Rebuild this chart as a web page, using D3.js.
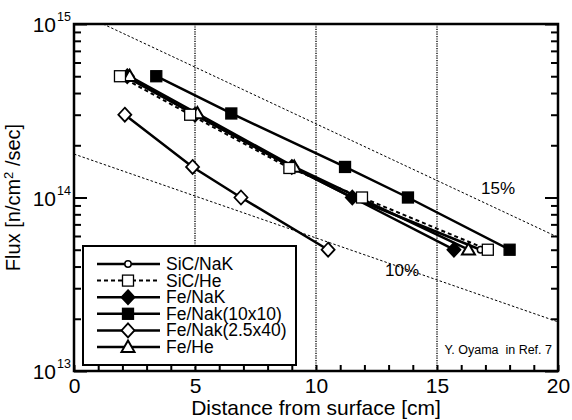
<!DOCTYPE html>
<html>
<head>
<meta charset="utf-8">
<script src="https://cdn.jsdelivr.net/npm/d3@7"></script>
<style>
  body { margin: 0; background: #fff; }
  svg { display: block; }
  text { font-family: "Liberation Sans", Arial, Helvetica, sans-serif; fill: #000; }
</style>
</head>
<body>
<script>
// series data: [distance cm, flux n/cm2/sec]
var sicNak   = [[2.1, 5.0e14], [5.0, 3.0e14], [9.0, 1.5e14], [11.5, 1.0e14], [16.8, 5.0e13]];
var sicHe    = [[1.9, 5.0e14], [4.8, 3.0e14], [8.9, 1.48e14], [11.9, 1.0e14], [17.1, 5.0e13]];
var feNak    = [[2.2, 5.0e14], [5.0, 3.0e14], [9.0, 1.5e14], [11.5, 1.0e14], [15.7, 5.0e13]];
var feNak10  = [[3.4, 5.0e14], [6.5, 3.05e14], [11.2, 1.5e14], [13.8, 1.0e14], [18.0, 5.0e13]];
var feNak25  = [[2.1, 3.0e14], [4.9, 1.5e14], [6.9, 1.0e14], [10.5, 5.0e13]];
var feHe     = [[2.3, 5.0e14], [5.1, 3.05e14], [9.1, 1.5e14], [16.3, 5.0e13]];

// dotted guide lines (15% / 10%)
var guide15 = [[1.2, 1.0e15], [20, 5.9e13]];
var guide10 = [[0, 1.78e14], [20, 1.92e13]];

var xTicks = d3.range(0, 21);
var xLabels = [0, 5, 10, 15, 20];
var gridX = [5, 10, 15];
var decades = [13, 14, 15];

var series = [
  { name: "SiC/NaK",        data: sicNak,  marker: "circle",   dash: null },
  { name: "SiC/He",         data: sicHe,   marker: "square",   dash: "4,3" },
  { name: "Fe/NaK",         data: feNak,   marker: "diamondF", dash: null },
  { name: "Fe/Nak(10x10)",  data: feNak10, marker: "squareF",  dash: null },
  { name: "Fe/Nak(2.5x40)", data: feNak25, marker: "diamond",  dash: null },
  { name: "Fe/He",          data: feHe,    marker: "triangle", dash: null }
];

var width = 572, height = 420;
var pLeft = 74, pRight = 558, pTop = 24, pBottom = 371;

var svg = d3.select("body").append("svg")
    .attr("width", width)
    .attr("height", height);

var x = d3.scaleLinear().domain([0, 20]).range([pLeft, pRight]);
var y = d3.scaleLog().domain([1e13, 1e15]).range([pBottom, pTop]);

// vertical dotted grid
svg.selectAll(".grid")
    .data(gridX)
    .enter()
    .append("line")
    .attr("x1", d => x(d)).attr("x2", d => x(d))
    .attr("y1", pTop).attr("y2", pBottom)
    .attr("stroke", "#555")
    .attr("stroke-width", 2)
    .attr("stroke-dasharray", "1.2,1.2");

// guide lines
var line = d3.line().x(d => x(d[0])).y(d => y(d[1]));
[guide15, guide10].forEach(g => {
    svg.append("path")
        .attr("d", line(g))
        .attr("fill", "none")
        .attr("stroke", "#000")
        .attr("stroke-width", 1)
        .attr("stroke-dasharray", "2.5,2");
});

// y ticks: minor 2..9 in each decade, majors at decades
var yTicks = [];
[13, 14].forEach(e => {
    for (var m = 1; m < 10; m++) yTicks.push(m * Math.pow(10, e));
});
yTicks.push(1e15);
function isMajor(v) {
    var l = Math.log10(v);
    return Math.abs(l - Math.round(l)) < 1e-9;
}

var gLeft = svg.append("g")
    .attr("transform", `translate(${pLeft},0)`)
    .call(d3.axisLeft(y).tickValues(yTicks).tickFormat("").tickSizeOuter(0));
gLeft.selectAll(".tick line").attr("x2", d => isMajor(d) ? 13 : 7).attr("stroke-width", 2);

var gRight = svg.append("g")
    .attr("transform", `translate(${pRight},0)`)
    .call(d3.axisRight(y).tickValues(yTicks).tickFormat("").tickSizeOuter(0));
gRight.selectAll(".tick line").attr("x2", d => isMajor(d) ? -13 : -7).attr("stroke-width", 2);

var gBottom = svg.append("g")
    .attr("transform", `translate(0,${pBottom})`)
    .call(d3.axisBottom(x).tickValues(xTicks).tickSize(-6).tickSizeOuter(0)
        .tickPadding(7)
        .tickFormat(d => xLabels.indexOf(d) >= 0 ? d : ""));
gBottom.selectAll(".tick line").attr("stroke-width", 2);
gBottom.selectAll(".tick text")
    .style("font-family", '"Liberation Sans", Arial, sans-serif')
    .attr("font-size", 21)
    .attr("fill", "#000");

[gLeft, gRight, gBottom].forEach(g => g.select(".domain").remove());

// y tick labels 10^n
svg.selectAll(".ylab")
    .data(decades)
    .enter()
    .append("text")
    .attr("x", 56)
    .attr("y", d => y(Math.pow(10, d)) + 8)
    .attr("text-anchor", "end")
    .attr("font-size", 21)
    .text("10");
svg.selectAll(".ysup")
    .data(decades)
    .enter()
    .append("text")
    .attr("x", 57)
    .attr("y", d => y(Math.pow(10, d)) - 3)
    .attr("font-size", 12.5)
    .text(d => d);

// frame
svg.append("rect")
    .attr("x", pLeft).attr("y", pTop)
    .attr("width", pRight - pLeft).attr("height", pBottom - pTop)
    .attr("fill", "none")
    .attr("stroke", "#000")
    .attr("stroke-width", 2.5);

// marker drawing
function drawMarker(g, type, cx, cy) {
    if (type === "circle") {
        g.append("circle").attr("cx", cx).attr("cy", cy).attr("r", 3.2)
            .attr("fill", "#fff").attr("stroke", "#000").attr("stroke-width", 1.5);
    } else if (type === "square" || type === "squareF") {
        var s = 11;
        g.append("rect").attr("x", cx - s / 2).attr("y", cy - s / 2)
            .attr("width", s).attr("height", s)
            .attr("fill", type === "square" ? "#fff" : "#000")
            .attr("stroke", "#000").attr("stroke-width", 1.3);
    } else if (type === "diamond" || type === "diamondF") {
        var w = 6.5, h = 7;
        g.append("path")
            .attr("d", `M${cx},${cy - h}L${cx + w},${cy}L${cx},${cy + h}L${cx - w},${cy}Z`)
            .attr("fill", type === "diamond" ? "#fff" : "#000")
            .attr("stroke", "#000").attr("stroke-width", 1.8);
    } else if (type === "triangle") {
        var r = 6.5;
        g.append("path")
            .attr("d", `M${cx},${cy - r}L${cx + r},${cy + r * 0.75}L${cx - r},${cy + r * 0.75}Z`)
            .attr("fill", "#fff")
            .attr("stroke", "#000").attr("stroke-width", 2);
    }
}

// series lines
var plot = svg.append("g");
series.forEach(s => {
    plot.append("path")
        .attr("d", line(s.data))
        .attr("fill", "none")
        .attr("stroke", "#000")
        .attr("stroke-width", s.dash ? 2 : 2.5)
        .attr("stroke-dasharray", s.dash);
});
// markers in drawing order
var order = [0, 2, 4, 3, 5, 1];
order.forEach(i => {
    var s = series[i];
    s.data.forEach(d => drawMarker(plot, s.marker, x(d[0]), y(d[1])));
});

// legend
var lg = svg.append("g");
lg.append("rect")
    .attr("x", 83).attr("y", 246)
    .attr("width", 213).attr("height", 119)
    .attr("fill", "#fff")
    .attr("stroke", "#000")
    .attr("stroke-width", 2);
series.forEach((s, i) => {
    var ly = 264 + i * 16.6;
    lg.append("line")
        .attr("x1", 97).attr("x2", 160)
        .attr("y1", ly).attr("y2", ly)
        .attr("stroke", "#000")
        .attr("stroke-width", s.dash ? 2 : 2.5)
        .attr("stroke-dasharray", s.dash);
    drawMarker(lg, s.marker, 128, ly);
    lg.append("text")
        .attr("x", 166).attr("y", ly + 6)
        .attr("font-size", 17.5)
        .text(s.name);
});

// annotations
svg.append("text").attr("x", 498).attr("y", 194).attr("text-anchor", "middle")
    .attr("font-size", 17).text("15%");
svg.append("text").attr("x", 402).attr("y", 276).attr("text-anchor", "middle")
    .attr("font-size", 17).text("10%");
svg.append("text").attr("x", 552).attr("y", 354).attr("text-anchor", "end")
    .attr("font-size", 12.5).attr("xml:space", "preserve").text("Y. Oyama  in Ref. 7");

// axis titles
svg.append("text")
    .attr("x", (pLeft + pRight) / 2).attr("y", 415)
    .attr("text-anchor", "middle")
    .attr("font-size", 21)
    .text("Distance from surface [cm]");

var yt = svg.append("text")
    .attr("transform", `translate(20,${(pTop + pBottom) / 2}) rotate(-90)`)
    .attr("text-anchor", "middle")
    .attr("font-size", 20);
yt.append("tspan").text("Flux [n/cm");
yt.append("tspan").attr("dy", -7).attr("font-size", 13).text("2");
yt.append("tspan").attr("dy", 7).text(" /sec]");
</script>
</body>
</html>
